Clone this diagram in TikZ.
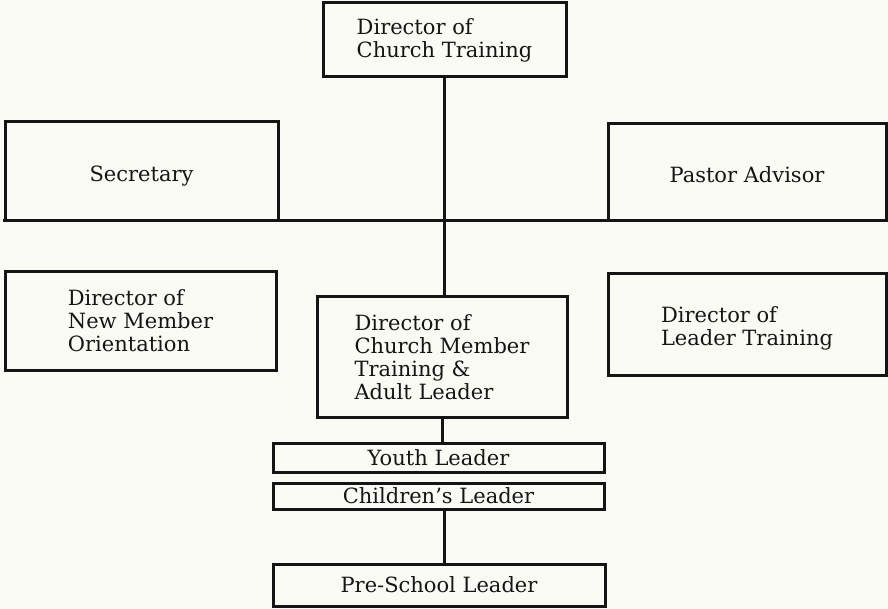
\documentclass[tikz,border=0pt]{standalone}
\usepackage{fontspec}
\setmainfont{DejaVu Serif}
\definecolor{bg}{HTML}{FBFBF6}
\definecolor{ink}{HTML}{151515}
\begin{document}
\begin{tikzpicture}[x=1pt,y=-1pt,
  box/.style={draw=ink, line width=3pt, rectangle, inner sep=0pt, align=left,
    font=\fontsize{21}{23}\selectfont, text=ink},
  conn/.style={draw=ink, line width=3pt}]
\fill[bg] (0,0) rectangle (888,609);
\useasboundingbox (0,0) rectangle (888,609);
\node[box, minimum width=243, minimum height=74] (top) at (444.5,40) {Director of\\Church Training};
\node[box, minimum width=273, minimum height=99, align=center, text height=25pt, text depth=5pt] (sec) at (141.5,171.5) {Secretary};
\node[box, minimum width=278, minimum height=97, align=center, text height=26pt, text depth=5pt] (pas) at (747,172.5) {Pastor Advisor};
\node[box, minimum width=271, minimum height=98] (newm) at (140.5,321) {Director of\\New Member\\Orientation};
\node[box, minimum width=278, minimum height=101] (lead) at (747,324.5) {\rule{0pt}{24pt}Director of\\Leader Training};
\node[box, minimum width=250, minimum height=120] (mid) at (442,357) {Director of\\Church Member\\Training \&\\Adult Leader};
\node[box, minimum width=331, minimum height=29, align=center] (youth) at (438.5,457.5) {Youth Leader};
\node[box, minimum width=331, minimum height=26, align=center] (child) at (438.5,496) {Children's Leader};
\node[box, minimum width=332, minimum height=42, align=center] (pre) at (439,585) {Pre-School Leader};
\coordinate (hl) at (3,221);
\coordinate (hr) at (888,221);
\draw[conn] (hl) -- (hr);
\draw[conn] (top.south) -- (top.south |- mid.north);
\draw[conn] (mid.south) -- (mid.south |- youth.north);
\draw[conn] (child.south -| top.south) -- (pre.north -| top.south);
\end{tikzpicture}
\end{document}
